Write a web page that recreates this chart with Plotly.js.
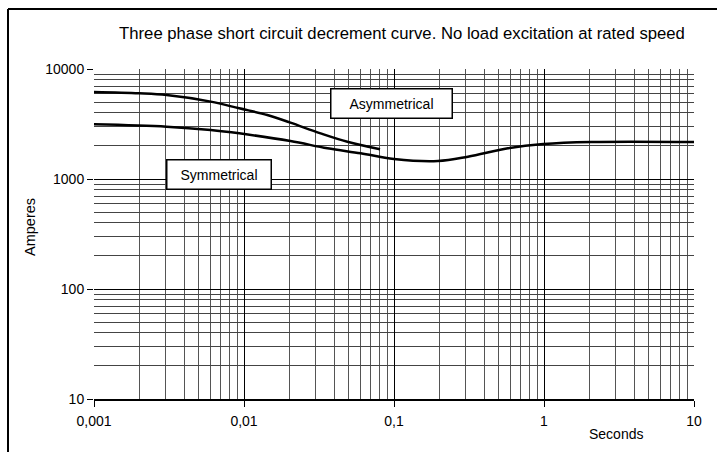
<!DOCTYPE html>
<html>
<head>
<meta charset="utf-8">
<script src="https://cdn.plot.ly/plotly-3.0.1.min.js"></script>
<style>html,body{margin:0;padding:0;background:#fff;}#chart{width:717px;height:452px;}</style>
</head>
<body>
<div id="chart"></div>
<script>
// Asymmetrical current (A) vs time (s)
const asymTime = [0.001, 0.002, 0.00305, 0.006, 0.0093, 0.0143, 0.0204, 0.0324, 0.0489, 0.0807];
const asymAmps = [6180, 6010, 5800, 5050, 4390, 3820, 3250, 2600, 2180, 1862];
// Symmetrical current (A) vs time (s)
const symTime = [0.001, 0.00305, 0.006, 0.0093, 0.0204, 0.036, 0.06, 0.1, 0.196, 0.311, 0.575, 0.99, 2.07, 10];
const symAmps = [3140, 2990, 2790, 2600, 2215, 1900, 1713, 1520, 1457, 1595, 1902, 2080, 2170, 2170];
// Tick labels
const xTickVals = [0.001, 0.01, 0.1, 1, 10];
const xTickText = ['0,001', '0,01', '0,1', '1', '10'];
const yTickVals = [10, 100, 1000, 10000];
const yTickText = ['10', '100', '1000', '10000'];

const FONT = 'Liberation Sans, Arial, sans-serif';

const traces = [
  {x: asymTime, y: asymAmps, name: 'Asymmetrical', mode: 'lines',
   line: {color: '#000', width: 2.5, shape: 'spline', smoothing: 1}},
  {x: symTime, y: symAmps, name: 'Symmetrical', mode: 'lines',
   line: {color: '#000', width: 2.5, shape: 'spline', smoothing: 1}}
];

const layout = {
  width: 717, height: 452,
  margin: {l: 94, r: 23, t: 69, b: 53},
  paper_bgcolor: '#fff', plot_bgcolor: '#fff',
  showlegend: false,
  font: {family: FONT, size: 14, color: '#000'},
  title: {text: 'Three phase short circuit decrement curve. No load excitation at rated speed',
          font: {family: FONT, size: 16.7, color: '#000'},
          xref: 'container', yref: 'container', x: 402/717, y: 1 - 33/452,
          xanchor: 'center', yanchor: 'middle'},
  xaxis: {type: 'log', range: [-3, 1], tickmode: 'array', tickvals: xTickVals, ticktext: xTickText,
          ticks: 'outside', ticklen: 6, tickcolor: '#000', tickwidth: 1, ticklabelstandoff: 3,
          showline: true, linecolor: '#000', linewidth: 1.5, mirror: false,
          showgrid: true, gridcolor: '#000', gridwidth: 1, zeroline: false,
          tickfont: {family: FONT, size: 14, color: '#000'},
          minor: {dtick: 'D1', showgrid: true, gridcolor: '#555', gridwidth: 1, ticks: ''}},
  yaxis: {type: 'log', range: [1, 4], tickmode: 'array', tickvals: yTickVals, ticktext: yTickText,
          ticks: 'outside', ticklen: 6, tickcolor: '#000', tickwidth: 1,
          showline: false, showgrid: true, gridcolor: '#000', gridwidth: 1, zeroline: false,
          tickfont: {family: FONT, size: 14, color: '#000'},
          minor: {dtick: 'D1', showgrid: true, gridcolor: '#444', gridwidth: 1, ticks: ''}},
  annotations: [
    {text: 'Asymmetrical', xref: 'paper', yref: 'paper', x: (391.3-94)/600, y: 1 - (103.8-69)/330,
     showarrow: false, xanchor: 'center', yanchor: 'middle', font: {family: FONT, size: 14, color: '#000'},
     bgcolor: '#fff', bordercolor: '#000', borderwidth: 1.5, borderpad: 5, width: 110, height: 18},
    {text: 'Symmetrical', xref: 'paper', yref: 'paper', x: (218.8-94)/600, y: 1 - (174.2-69)/330,
     showarrow: false, xanchor: 'center', yanchor: 'middle', font: {family: FONT, size: 14, color: '#000'},
     bgcolor: '#fff', bordercolor: '#000', borderwidth: 1.5, borderpad: 5, width: 93, height: 18},
    {text: 'Amperes', xref: 'paper', yref: 'paper', x: (30-94)/600, y: 1 - (227-69)/330, textangle: -90,
     showarrow: false, xanchor: 'center', yanchor: 'middle', font: {family: FONT, size: 14.5, color: '#000'}},
    {text: 'Seconds', xref: 'paper', yref: 'paper', x: (616-94)/600, y: 1 - (434-69)/330,
     showarrow: false, xanchor: 'center', yanchor: 'middle', font: {family: FONT, size: 14, color: '#000'}}
  ],
  shapes: [
    {type: 'line', xref: 'paper', yref: 'paper', x0: (8-94)/600, x1: (717-94)/600, y0: 1 - (9-69)/330, y1: 1 - (9-69)/330,
     line: {color: '#000', width: 2}},
    {type: 'line', xref: 'paper', yref: 'paper', x0: (8-94)/600, x1: (8-94)/600, y0: 1 - (9-69)/330, y1: 1 - (452-69)/330,
     line: {color: '#000', width: 2}}
  ]
};

Plotly.newPlot('chart', traces, layout, {staticPlot: true, displayModeBar: false});
</script>
</body>
</html>
